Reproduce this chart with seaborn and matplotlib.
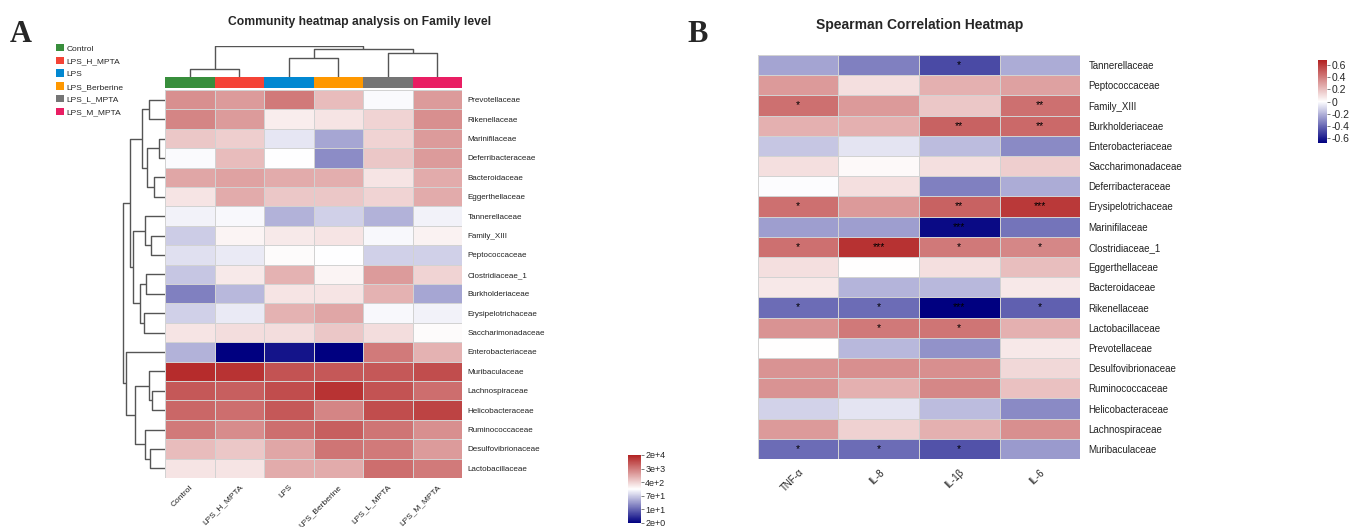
import numpy as np
import pandas as pd
import matplotlib
matplotlib.use('Agg')
import matplotlib.pyplot as plt
import seaborn as sns
from matplotlib.colors import LinearSegmentedColormap, ListedColormap
from matplotlib.patches import Patch

# ---------------- panel A data ----------------
groups = ['Control', 'LPS_H_MPTA', 'LPS', 'LPS_Berberine', 'LPS_L_MPTA', 'LPS_M_MPTA']
group_colors = ['#388E3C', '#F44336', '#0288D1', '#FF9800', '#757575', '#E91E63']

families_a = ['Prevotellaceae', 'Rikenellaceae', 'Marinifilaceae', 'Deferribacteraceae',
              'Bacteroidaceae', 'Eggerthellaceae', 'Tannerellaceae', 'Family_XIII',
              'Peptococcaceae', 'Clostridiaceae_1', 'Burkholderiaceae', 'Erysipelotrichaceae',
              'Saccharimonadaceae', 'Enterobacteriaceae', 'Muribaculaceae', 'Lachnospiraceae',
              'Helicobacteraceae', 'Ruminococcaceae', 'Desulfovibrionaceae', 'Lactobacillaceae']

# log10 abundance
abund_a = [
    [3.30, 3.20, 3.50, 2.90, 2.26, 3.20],
    [3.40, 3.20, 2.46, 2.54, 2.70, 3.30],
    [2.80, 2.74, 2.10, 1.60, 2.70, 3.20],
    [2.26, 2.90, 2.30, 1.40, 2.80, 3.20],
    [3.10, 3.14, 3.06, 3.02, 2.54, 3.06],
    [2.54, 3.06, 2.80, 2.80, 2.70, 3.06],
    [2.20, 2.24, 1.70, 1.94, 1.70, 2.20],
    [1.90, 2.40, 2.50, 2.54, 2.24, 2.42],
    [2.06, 2.14, 2.34, 2.30, 1.94, 1.94],
    [1.86, 2.50, 3.00, 2.40, 3.20, 2.70],
    [1.30, 1.74, 2.54, 2.54, 3.00, 1.60],
    [1.94, 2.14, 3.00, 3.10, 2.24, 2.20],
    [2.54, 2.60, 2.60, 2.80, 2.60, 2.34],
    [1.70, 0.30, 0.46, 0.30, 3.50, 3.00],
    [4.20, 4.14, 3.86, 3.80, 3.80, 3.90],
    [3.80, 3.74, 3.90, 4.14, 3.86, 3.60],
    [3.66, 3.60, 3.80, 3.40, 3.90, 4.00],
    [3.50, 3.34, 3.60, 3.74, 3.54, 3.30],
    [2.90, 2.80, 3.10, 3.54, 3.50, 3.20],
    [2.54, 2.54, 3.06, 3.06, 3.60, 3.50],
]
cbar_a_ticks = [0.3, 1.1, 1.9, 2.7, 3.5, 4.3]
cbar_a_labels = ['2e+0', '1e+1', '7e+1', '4e+2', '3e+3', '2e+4']

# dendrogram merges (left, right, height); leaves numbered in display order
row_links = [(2, 3, 6), (4, 5, 10), (15, 16, 12), (7, 8, 13), (18, 19, 14),
             (0, 1, 15), (14, 22, 15), (20, 21, 17), (9, 10, 18), (6, 23, 19),
             (17, 24, 19), (11, 12, 20), (25, 27, 22), (28, 31, 24), (26, 30, 28),
             (29, 33, 30), (32, 35, 33), (13, 34, 37), (36, 37, 40)]
col_links = [(0, 1, 8), (2, 3, 19), (4, 5, 24), (7, 8, 28), (6, 9, 31)]

# ---------------- panel B data ----------------
cytokines = ['TNF-α', 'IL-8', 'IL-1β', 'IL-6']
families_b = ['Tannerellaceae', 'Peptococcaceae', 'Family_XIII', 'Burkholderiaceae',
              'Enterobacteriaceae', 'Saccharimonadaceae', 'Deferribacteraceae',
              'Erysipelotrichaceae', 'Marinifilaceae', 'Clostridiaceae_1', 'Eggerthellaceae',
              'Bacteroidaceae', 'Rikenellaceae', 'Lactobacillaceae', 'Prevotellaceae',
              'Desulfovibrionaceae', 'Ruminococcaceae', 'Helicobacteraceae',
              'Lachnospiraceae', 'Muribaculaceae']
rho_b = [
    [-0.24, -0.34, -0.48, -0.22],
    [0.31, 0.10, 0.24, 0.29],
    [0.44, 0.31, 0.17, 0.44],
    [0.24, 0.24, 0.48, 0.46],
    [-0.15, -0.07, -0.18, -0.31],
    [0.10, 0.02, 0.10, 0.15],
    [-0.01, 0.10, -0.34, -0.22],
    [0.44, 0.31, 0.48, 0.61],
    [-0.26, -0.26, -0.65, -0.37],
    [0.44, 0.63, 0.41, 0.37],
    [0.10, 0.00, 0.10, 0.20],
    [0.07, -0.20, -0.19, 0.07],
    [-0.39, -0.39, -0.68, -0.42],
    [0.33, 0.41, 0.42, 0.24],
    [0.00, -0.19, -0.29, 0.07],
    [0.33, 0.34, 0.34, 0.12],
    [0.33, 0.24, 0.37, 0.19],
    [-0.12, -0.07, -0.18, -0.31],
    [0.31, 0.14, 0.24, 0.34],
    [-0.39, -0.39, -0.46, -0.27],
]
stars_b = [
    ['', '', '*', ''],
    ['', '', '', ''],
    ['*', '', '', '**'],
    ['', '', '**', '**'],
    ['', '', '', ''],
    ['', '', '', ''],
    ['', '', '', ''],
    ['*', '', '**', '***'],
    ['', '', '***', ''],
    ['*', '***', '*', '*'],
    ['', '', '', ''],
    ['', '', '', ''],
    ['*', '*', '***', '*'],
    ['', '*', '*', ''],
    ['', '', '', ''],
    ['', '', '', ''],
    ['', '', '', ''],
    ['', '', '', ''],
    ['', '', '', ''],
    ['*', '*', '*', ''],
]
cbar_b_ticks = [0.6, 0.4, 0.2, 0, -0.2, -0.4, -0.6]

# ---------------- figure ----------------
sns.set_style('white')
plt.rcParams['font.family'] = ['Liberation Sans', 'DejaVu Sans']

W, H = 1370, 527
fig = plt.figure(figsize=(W / 100, H / 100), dpi=100)


def px_axes(x0, y0, x1, y1):
    return fig.add_axes([x0 / W, 1 - y1 / H, (x1 - x0) / W, (y1 - y0) / H])


def draw_dendro(ax, links, n, side):
    pos = {i: i + 0.5 for i in range(n)}
    hgt = {i: 0.0 for i in range(n)}
    for k, (a, b, h) in enumerate(links):
        xs = [pos[a], pos[a], pos[b], pos[b]]
        ys = [hgt[a], h, h, hgt[b]]
        if side == 'top':
            ax.plot(xs, ys, color='#555555', lw=1.0, solid_capstyle='butt')
        else:
            ax.plot(ys, xs, color='#555555', lw=1.0, solid_capstyle='butt')
        pos[n + k] = (pos[a] + pos[b]) / 2
        hgt[n + k] = h
    top = max(l[2] for l in links)
    if side == 'top':
        ax.set_xlim(0, n)
        ax.set_ylim(0, top + 0.5)
    else:
        ax.set_ylim(n, 0)
        ax.set_xlim(top + 0.5, 0)
    ax.axis('off')


cmap = LinearSegmentedColormap.from_list('nwf', ['navy', 'white', 'firebrick'])
grid = '#d2d2d2'

# panel A
df_a = pd.DataFrame(abund_a, index=families_a, columns=groups)
ax_a = px_axes(165, 90, 462, 478)
cax_a = px_axes(628, 455, 641, 523)
sns.heatmap(df_a, ax=ax_a, cmap=cmap, vmin=0.3, vmax=4.3, linewidths=0.5,
            linecolor=grid, cbar_ax=cax_a, xticklabels=True, yticklabels=True)
ax_a.yaxis.tick_right()
ax_a.set_yticklabels(families_a, rotation=0, fontsize=5.8, color='#222222')
ax_a.set_xticklabels(groups, rotation=45, ha='right', rotation_mode='anchor',
                     fontsize=6, color='#222222')
ax_a.tick_params(length=0, pad=4)
ax_a.set_xlabel('')
ax_a.set_ylabel('')

cb_a = ax_a.collections[0].colorbar
cb_a.set_ticks(cbar_a_ticks)
cb_a.set_ticklabels(cbar_a_labels)
cb_a.ax.tick_params(labelsize=6.5, length=2, width=0.6, color='#666666', pad=1)
cb_a.outline.set_visible(False)

ax_ann = px_axes(165, 77, 462, 88)
sns.heatmap(pd.DataFrame([list(range(len(groups)))]), ax=ax_ann,
            cmap=ListedColormap(group_colors), vmin=-0.5, vmax=len(groups) - 0.5,
            cbar=False, xticklabels=False, yticklabels=False)

ax_cd = px_axes(165, 46, 462, 77)
draw_dendro(ax_cd, col_links, len(groups), 'top')
ax_rd = px_axes(122, 90, 165, 478)
draw_dendro(ax_rd, row_links, len(families_a), 'left')

handles = [Patch(facecolor=c, edgecolor='none') for c in group_colors]
fig.legend(handles, groups, loc='upper left', bbox_to_anchor=(56 / W, 1 - 44 / H),
           frameon=False, fontsize=6, handlelength=1.0, handleheight=1.0,
           handletextpad=0.25, labelspacing=0.5, borderpad=0, borderaxespad=0)

fig.text(360 / W, 1 - 22 / H, 'Community heatmap analysis on Family level',
         ha='center', va='center', fontsize=8.7, fontweight='bold')
fig.text(10 / W, 1 - 42 / H, 'A', ha='left', va='baseline', fontsize=22,
         fontweight='bold', family='Liberation Serif')

# panel B
df_b = pd.DataFrame(rho_b, index=families_b, columns=cytokines)
ax_b = px_axes(758, 55, 1080, 459)
cax_b = px_axes(1318, 60, 1327, 143)
sns.heatmap(df_b, ax=ax_b, cmap=cmap, vmin=-0.68, vmax=0.68, linewidths=0.5,
            linecolor=grid, cbar_ax=cax_b, annot=np.array(stars_b), fmt='',
            annot_kws={'fontsize': 7.5, 'color': 'black'},
            xticklabels=True, yticklabels=True)
ax_b.yaxis.tick_right()
ax_b.set_yticklabels(families_b, rotation=0, fontsize=7, color='#222222')
ax_b.set_xticklabels(cytokines, rotation=45, ha='right', rotation_mode='anchor',
                     fontsize=7, color='#222222')
ax_b.tick_params(length=0, pad=6)
ax_b.set_xlabel('')
ax_b.set_ylabel('')

cb_b = ax_b.collections[0].colorbar
cb_b.set_ticks(cbar_b_ticks)
cb_b.set_ticklabels([f'{t:g}' for t in cbar_b_ticks])
cb_b.ax.tick_params(labelsize=7.5, length=2, width=0.6, color='#666666', pad=1)
cb_b.outline.set_visible(False)

fig.text(920 / W, 1 - 25 / H, 'Spearman Correlation Heatmap', ha='center',
         va='center', fontsize=10, fontweight='bold')
fig.text(687 / W, 1 - 42 / H, 'B', ha='left', va='baseline', fontsize=22,
         fontweight='bold', family='Liberation Serif')

fig.savefig('out.png', dpi=100)
